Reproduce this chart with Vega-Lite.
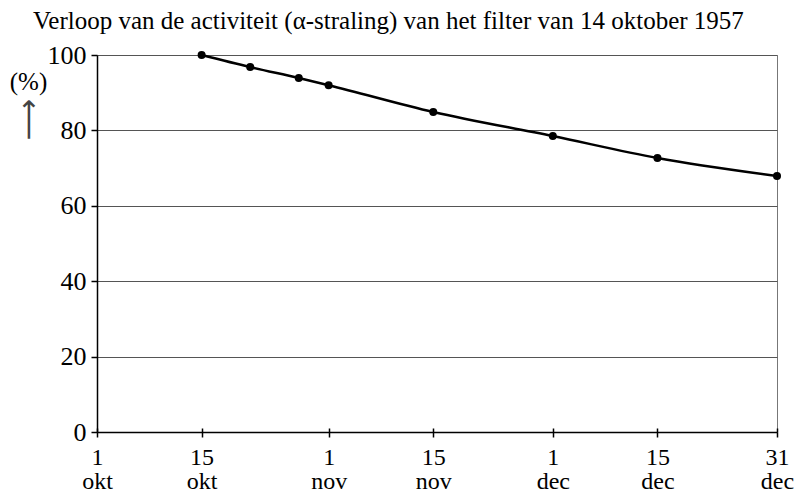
{
  "$schema": "https://vega.github.io/schema/vega-lite/v6.json",
  "width": 680,
  "height": 377,
  "padding": {"left": 9, "top": 9, "right": 2, "bottom": 2},
  "background": "white",
  "config": {
    "font": "Liberation Serif",
    "axis": {"labelFont": "Liberation Serif", "titleFont": "Liberation Serif"},
    "title": {"font": "Liberation Serif"},
    "view": {"stroke": "#777", "strokeWidth": 1}
  },
  "title": {
    "text": "Verloop van de activiteit (α-straling) van het filter van 14 oktober 1957",
    "anchor": "start",
    "frame": "group",
    "dx": -64,
    "fontSize": 25,
    "fontWeight": "normal",
    "color": "black",
    "offset": 8
  },
  "data": {
    "values": [
      {"day": 14, "activiteit": 100},
      {"day": 20.5, "activiteit": 96.8},
      {"day": 27, "activiteit": 93.9},
      {"day": 31, "activiteit": 92.0},
      {"day": 45, "activiteit": 84.9},
      {"day": 61, "activiteit": 78.5},
      {"day": 75, "activiteit": 72.7},
      {"day": 91, "activiteit": 67.9}
    ]
  },
  "layer": [
    {
      "mark": {"type": "line", "interpolate": "monotone", "color": "black", "strokeWidth": 2.5},
      "encoding": {
        "x": {
          "field": "day", "type": "quantitative",
          "scale": {"domain": [0, 91], "nice": false, "zero": false},
          "axis": {
            "orient": "bottom",
            "values": [0, 14, 31, 45, 61, 75, 91],
            "labelExpr": "datum.value==0?['1','okt']:datum.value==14?['15','okt']:datum.value==31?['1','nov']:datum.value==45?['15','nov']:datum.value==61?['1','dec']:datum.value==75?['15','dec']:['31','dec']",
            "title": null,
            "grid": false,
            "domainColor": "black",
            "domainWidth": 1.5,
            "tickColor": "black",
            "tickWidth": 1.5,
            "tickSize": 5,
            "labelFontSize": 24,
            "labelLineHeight": 24,
            "labelColor": "black",
            "labelPadding": 8,
            "labelFlush": false,
            "labelOverlap": false
          }
        },
        "y": {
          "field": "activiteit", "type": "quantitative",
          "scale": {"domain": [0, 100], "nice": false},
          "axis": {
            "values": [0, 20, 40, 60, 80, 100],
            "title": "(%)",
            "titleAngle": 0,
            "titleX": -69,
            "titleY": 14,
            "titleAlign": "center",
            "titleBaseline": "top",
            "titleFontSize": 25,
            "titleFontWeight": "normal",
            "titleColor": "black",
            "grid": true,
            "gridColor": "#555",
            "gridWidth": 1,
            "domainColor": "black",
            "domainWidth": 1.5,
            "tickColor": "black",
            "tickWidth": 1.5,
            "tickSize": 6,
            "labelFontSize": 26,
            "labelColor": "black",
            "labelPadding": 5
          }
        }
      }
    },
    {
      "mark": {"type": "point", "filled": true, "color": "black", "size": 64, "opacity": 1},
      "encoding": {
        "x": {
          "field": "day", "type": "quantitative",
          "axis": {
            "orient": "top",
            "offset": -377,
            "values": [0, 14, 31, 45, 61, 75, 91],
            "labels": false,
            "domain": false,
            "grid": false,
            "title": null,
            "tickColor": "black",
            "tickWidth": 1.5,
            "tickSize": 4
          }
        },
        "y": {
          "field": "activiteit", "type": "quantitative",
          "axis": {
            "orient": "left",
            "labels": false,
            "ticks": false,
            "domain": false,
            "grid": false,
            "title": "⟶",
            "titleFont": "DejaVu Sans",
            "titleFontSize": 29,
            "titleFontWeight": "normal",
            "titleColor": "#444",
            "titleAngle": 270,
            "titleX": -69,
            "titleY": 64,
            "titleAlign": "center",
            "titleBaseline": "middle"
          }
        }
      }
    }
  ],
  "resolve": {"axis": {"x": "independent", "y": "independent"}}
}
